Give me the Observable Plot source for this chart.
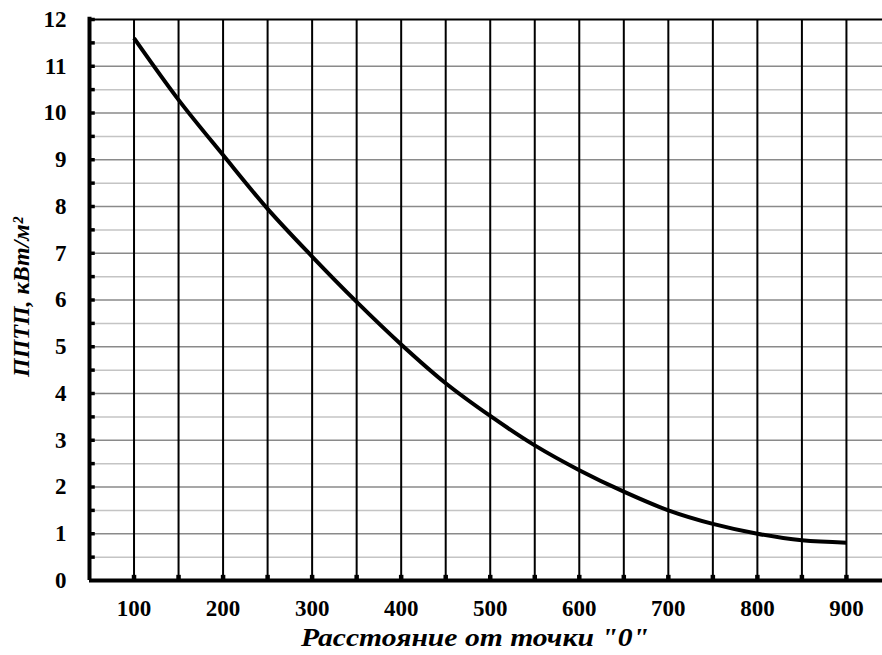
<!DOCTYPE html>
<html>
<head>
<meta charset="utf-8">
<script src="https://cdn.jsdelivr.net/npm/d3@7"></script>
<script src="https://cdn.jsdelivr.net/npm/@observablehq/plot@0.6"></script>
<style>
  html, body { margin: 0; padding: 0; background: white; }
  #chart svg, #chart svg text { font-family: "Liberation Serif", "Times New Roman", serif; }
</style>
</head>
<body>
<div id="chart"></div>
<script>
// Distance from point "0"
const distances = [100, 150, 200, 250, 300, 350, 400, 450, 500, 550, 600, 650, 700, 750, 800, 850, 900];
// ППТП, кВт/м²
const flux = [11.6, 10.28, 9.1, 7.95, 6.93, 5.96, 5.05, 4.22, 3.52, 2.89, 2.36, 1.9, 1.5, 1.21, 1.0, 0.86, 0.81];

const xTickLabels = [100, 200, 300, 400, 500, 600, 700, 800, 900];
const xGrid = [100, 150, 200, 250, 300, 350, 400, 450, 500, 550, 600, 650, 700, 750, 800, 850, 900];
const yTickLabels = [0, 1, 2, 3, 4, 5, 6, 7, 8, 9, 10, 11, 12];
const yMajorGrid = [1, 2, 3, 4, 5, 6, 7, 8, 9, 10, 11];
const yMinorGrid = [0.5, 1.5, 2.5, 3.5, 4.5, 5.5, 6.5, 7.5, 8.5, 9.5, 10.5, 11.5];
const yTickMarks = [0.5, 1, 1.5, 2, 2.5, 3, 3.5, 4, 4.5, 5, 5.5, 6, 6.5, 7, 7.5, 8, 8.5, 9, 9.5, 10, 10.5, 11, 11.5, 12];

const xTitle = 'Расстояние от точки "0"';
const yTitle = "ППТП, кВт/м²";

const data = distances.map((d, i) => ({x: d, y: flux[i]}));

const serif = "Liberation Serif";

const chart = Plot.plot({
  width: 882,
  height: 655,
  marginLeft: 89,
  marginRight: 0,
  marginTop: 19,
  marginBottom: 75,
  style: {background: "white", overflow: "hidden"},
  x: {domain: [50, 940.5]},
  y: {domain: [0, 12]},
  marks: [
    Plot.ruleY(yMinorGrid, {stroke: "#c4c4c4", strokeWidth: 1.5}),
    Plot.ruleY(yMajorGrid, {stroke: "#8a8a8a", strokeWidth: 1.5}),
    Plot.ruleY([12], {stroke: "black", strokeWidth: 2}),
    Plot.ruleX(xGrid, {y1: 0, y2: 12, stroke: "black", strokeWidth: 2}),
    Plot.ruleX(xGrid, {y1: 0, y2: 0.11, stroke: "black", strokeWidth: 4.5}),
    Plot.ruleY(yTickMarks, {x1: 50, x2: 56.5, stroke: "black", strokeWidth: 3.5}),
    Plot.ruleX([50], {y1: 0, y2: 12.05, stroke: "black", strokeWidth: 4}),
    Plot.ruleY([0], {stroke: "black", strokeWidth: 4}),
    Plot.line(data, {x: "x", y: "y", curve: "catmull-rom", stroke: "black", strokeWidth: 4, strokeLinecap: "butt"}),
    Plot.axisX(xTickLabels, {tickSize: 0, tickPadding: 19, fontSize: 23, fontWeight: "bold", fontFamily: serif, label: null, tickFormat: d => String(d)}),
    Plot.axisY(yTickLabels, {tickSize: 0, tickPadding: 23, fontSize: 23, fontWeight: "bold", fontFamily: serif, label: null, tickFormat: d => String(d)}),
    Plot.text([xTitle], {frameAnchor: "bottom", dx: -11, dy: 65, lineAnchor: "bottom", textAnchor: "middle", fontSize: 26, fontWeight: "bold", fontStyle: "italic", fontFamily: serif}),
    Plot.text([yTitle], {frameAnchor: "left", textAnchor: "middle", rotate: -90, dx: -68, dy: -3, fontSize: 24, fontWeight: "bold", fontStyle: "italic", fontFamily: serif})
  ]
});

// stretch axis titles horizontally like the reference
d3.select(chart).selectAll("text")
  .filter(function() { return this.textContent === xTitle; })
  .attr("textLength", 348).attr("lengthAdjust", "spacingAndGlyphs");
d3.select(chart).selectAll("text")
  .filter(function() { return this.textContent === yTitle; })
  .attr("textLength", 160).attr("lengthAdjust", "spacingAndGlyphs");

document.getElementById("chart").appendChild(chart);
</script>
</body>
</html>
